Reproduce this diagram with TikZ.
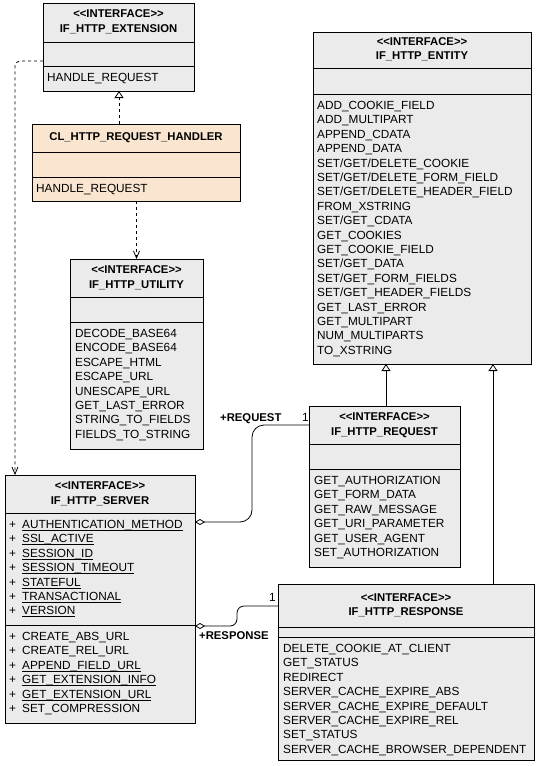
\documentclass[tikz,border=0pt]{standalone}
\usepackage{fontspec}
\setmainfont{Liberation Sans}
\usetikzlibrary{arrows.meta}
\definecolor{boxgray}{HTML}{EBEBEB}
\definecolor{peach}{HTML}{FAE6D0}
\newcommand\stereo{<\kern0pt<INTERFACE>\kern0pt>}
\newsavebox\undlbox
\newcommand\undl[1]{\sbox\undlbox{#1}\rlap{\rule[-2.3bp]{\wd\undlbox}{0.8bp}}\usebox\undlbox}
\newcommand\pl{\makebox[13bp][l]{+}}
\tikzset{
 clsbox/.style={draw, line width=0.8bp, anchor=north west, inner sep=0pt, outer sep=0pt},
 divider/.style={line width=0.8bp},
 item/.style={anchor=base west, inner sep=0pt, font=\fontsize{11.8bp}{14bp}\selectfont},
 ttl/.style={anchor=base, inner sep=0pt, font=\fontsize{11.3bp}{14bp}\selectfont\bfseries},
 lbl/.style={anchor=base west, inner sep=0pt, font=\fontsize{11.8bp}{14bp}\selectfont},
 lblb/.style={anchor=base west, inner sep=0pt, font=\fontsize{11.3bp}{14bp}\selectfont\bfseries},
 conn/.style={line width=0.8bp},
 dep/.style={conn, dash pattern=on 3bp off 3bp, -{Straight Barb[length=7bp,width=6bp]}},
 real/.style={conn, dash pattern=on 3bp off 3bp, -{Triangle[open,length=7bp,width=9bp]}},
 gen/.style={conn, -{Triangle[open,length=7bp,width=9bp]}},
 assoc/.style={conn, {Diamond[open,length=10bp,width=6bp]}-},
}
% name, x, y, w, h, d1, d2, fill
\newcommand\classbox[8]{%
 \node[clsbox, fill=#8, minimum width=#4bp, minimum height=#5bp] (#1) at (#2,#3) {};
 \draw[divider] ([yshift=-#6bp]#1.north west) -- ([yshift=-#6bp]#1.north east);
 \draw[divider] ([yshift=-#7bp]#1.north west) -- ([yshift=-#7bp]#1.north east);
}
% name, title-section height, class name
\newcommand\ititle[3]{%
 \node[ttl] (#1-st) at ([yshift={-(#2/2-4.5)*1bp}]#1.north) {\stereo};
 \node[ttl] (#1-nm) at ([yshift={-(#2/2+10)*1bp}]#1.north) {#3};
}
% name, prefix, divider offset, x pad, list
\newcommand\oplist[5]{%
 \foreach \t [count=\i from 0] in {#5}
  \node[item] (#1-#2\i) at ([shift={(#4,{#3+15.5+14.4*\i})}]#1.north west) {\t};
}
\begin{document}
\begin{tikzpicture}[x=1bp,y=-1bp]
\fill[white] (0,0) rectangle (539,766);
\useasboundingbox (0,0) rectangle (539,766);

% IF_HTTP_EXTENSION
\classbox{ext}{43}{3}{151}{88}{39}{63}{boxgray}
\ititle{ext}{39}{IF\_HTTP\_EXTENSION}
\oplist{ext}{o}{63}{4}{HANDLE\_REQUEST}

% CL_HTTP_REQUEST_HANDLER
\classbox{hdl}{32}{124}{208}{77}{28}{53}{peach}
\node[ttl] (hdl-nm) at ([yshift=-16bp]hdl.north) {CL\_HTTP\_REQUEST\_HANDLER};
\oplist{hdl}{o}{53}{4}{HANDLE\_REQUEST}

% IF_HTTP_UTILITY
\classbox{util}{70}{259}{133}{190}{38}{63}{boxgray}
\ititle{util}{38}{IF\_HTTP\_UTILITY}
\oplist{util}{o}{63}{5}{DECODE\_BASE64,ENCODE\_BASE64,ESCAPE\_HTML,ESCAPE\_URL,UNESCAPE\_URL,GET\_LAST\_ERROR,STRING\_TO\_FIELDS,FIELDS\_TO\_STRING}

% IF_HTTP_ENTITY
\classbox{ent}{313}{32}{218}{332}{36}{62}{boxgray}
\ititle{ent}{36}{IF\_HTTP\_ENTITY}
\oplist{ent}{o}{62}{4}{ADD\_COOKIE\_FIELD,ADD\_MULTIPART,APPEND\_CDATA,APPEND\_DATA,SET/GET/DELETE\_COOKIE,SET/GET/DELETE\_FORM\_FIELD,SET/GET/DELETE\_HEADER\_FIELD,FROM\_XSTRING,SET/GET\_CDATA,GET\_COOKIES,GET\_COOKIE\_FIELD,SET/GET\_DATA,SET/GET\_FORM\_FIELDS,SET/GET\_HEADER\_FIELDS,GET\_LAST\_ERROR,GET\_MULTIPART,NUM\_MULTIPARTS,TO\_XSTRING}

% IF_HTTP_REQUEST
\classbox{req}{309}{406}{151}{161}{38}{63}{boxgray}
\ititle{req}{38}{IF\_HTTP\_REQUEST}
\oplist{req}{o}{63}{5}{GET\_AUTHORIZATION,GET\_FORM\_DATA,GET\_RAW\_MESSAGE,GET\_URI\_PARAMETER,GET\_USER\_AGENT,SET\_AUTHORIZATION}

% IF_HTTP_SERVER
\classbox{srv}{5}{475}{190}{248}{38}{150}{boxgray}
\ititle{srv}{38}{IF\_HTTP\_SERVER}
\oplist{srv}{a}{38}{4}{\pl\undl{AUTHENTICATION\_METHOD},\pl\undl{SSL\_ACTIVE},\pl\undl{SESSION\_ID},\pl\undl{SESSION\_TIMEOUT},\pl\undl{STATEFUL},\pl\undl{TRANSACTIONAL},\pl\undl{VERSION}}
\oplist{srv}{o}{150}{4}{\pl CREATE\_ABS\_URL,\pl CREATE\_REL\_URL,\pl\undl{APPEND\_FIELD\_URL},\pl\undl{GET\_EXTENSION\_INFO},\pl\undl{GET\_EXTENSION\_URL},\pl SET\_COMPRESSION}

% IF_HTTP_RESPONSE
\classbox{resp}{278}{584}{256}{176}{43}{53}{boxgray}
\ititle{resp}{43}{IF\_HTTP\_RESPONSE}
\oplist{resp}{o}{53}{5}{DELETE\_COOKIE\_AT\_CLIENT,GET\_STATUS,REDIRECT,SERVER\_CACHE\_EXPIRE\_ABS,SERVER\_CACHE\_EXPIRE\_DEFAULT,SERVER\_CACHE\_EXPIRE\_REL,SET\_STATUS,SERVER\_CACHE\_BROWSER\_DEPENDENT}

% connectors
\draw[dep, rounded corners=5bp] ([yshift=-58bp]ext.north west) -| ([xshift=10bp]srv.north west);
\draw[real] ([xshift=87bp]hdl.north west) coordinate (hdl-up) -- (hdl-up |- ext.south);
\draw[dep] ([xshift=104.5bp]hdl.south west) coordinate (hdl-dn) -- (hdl-dn |- util.north);
\draw[gen] ([xshift=77bp]req.north west) coordinate (req-up) -- (req-up |- ent.south);
\draw[gen] ([xshift=215bp]resp.north west) coordinate (resp-up) -- (resp-up |- ent.south);
\draw[assoc, rounded corners=12bp] ([yshift=-47bp]srv.north east) -- ++(57,0) |- ([yshift=-19bp]req.north west);
\draw[assoc, rounded corners=7bp] ([yshift=-151bp]srv.north east) -- ++(42,0) |- ([yshift=-22bp]resp.north west);

% association labels
\node[lblb] (lreq) at (220,421) {+REQUEST};
\node[lbl] (mreq) at (302,421) {1};
\node[lblb] (lresp) at (199,639) {+RESPONSE};
\node[lbl] (mresp) at (269,601) {1};
\end{tikzpicture}
\end{document}
